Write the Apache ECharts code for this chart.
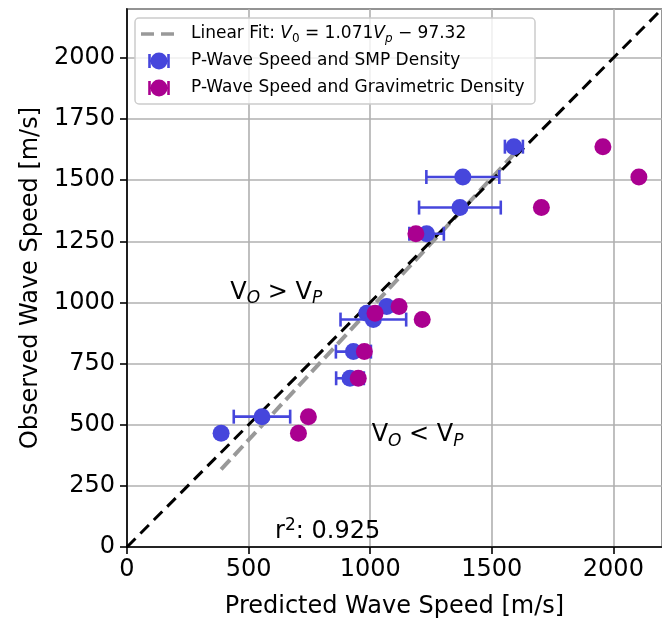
<!DOCTYPE html>
<html>
<head>
<meta charset="utf-8">
<script src="https://cdn.jsdelivr.net/npm/echarts@6/dist/echarts.min.js"></script>
<style>
  html, body { margin: 0; padding: 0; background: #ffffff; }
  #chart { width: 662px; height: 626px; }
</style>
</head>
<body>
<div id="chart"></div>
<script>
// Observed wave speed of each sample [m/s]
const observedSpeed = [1637, 1513, 1388, 1281, 983, 956, 930, 799, 690, 533, 465];
// Predicted P-wave speed from SMP density [m/s]
const smpPredicted = [1591, 1381, 1369, 1232, 1068, 986, 1013, 931, 917, 555, 387];
// Uncertainty of the SMP-based prediction [m/s]
const smpError = [37, 150, 168, 71, 0, 0, 135, 72, 57, 116, 0];
// Predicted P-wave speed from gravimetric density [m/s]
const gravPredicted = [1957, 2105, 1704, 1188, 1119, 1020, 1214, 976, 951, 746, 705];
// Linear fit of observed vs SMP-predicted speed
const fitSlope = 1.071;
const fitIntercept = -97.32;
const rSquared = '0.925';
// Axis extents and tick spacing
const axisMax = 2200;
const xTickStep = 500;
const yTickStep = 250;

const FONT = 'DejaVu Sans';
const BLUE = '#4646DC';
const MAGENTA = '#AA0090';
const GRID_GRAY = '#b0b0b0';
const FIT_GRAY = '#999999';

const chart = echarts.init(document.getElementById('chart'), null, { renderer: 'canvas' });

const smpPoints = smpPredicted.map((x, i) => [x, observedSpeed[i]]);
const gravPoints = gravPredicted.map((x, i) => [x, observedSpeed[i]]);
const errPoints = smpPredicted.map((x, i) => [x, observedSpeed[i], smpError[i]]);

const fitX0 = Math.min(...smpPredicted);
const fitX1 = Math.max(...smpPredicted);
const fitLine = [[fitX0, fitSlope * fitX0 + fitIntercept], [fitX1, fitSlope * fitX1 + fitIntercept]];
const identityLine = [[0, 0], [axisMax, axisMax]];

const axisCommon = {
  type: 'value',
  min: 0,
  max: axisMax,
  axisLine: { show: true, onZero: false, lineStyle: { color: '#000', width: 1.6 } },
  axisTick: { show: true, inside: false, length: 7, lineStyle: { color: '#000', width: 1.6 } },
  splitLine: { show: true, lineStyle: { color: GRID_GRAY, width: 1.6 } },
  nameLocation: 'middle',
  nameTextStyle: { fontFamily: FONT, fontSize: 24, color: '#000' }
};

// Horizontal error bar with end caps
function renderErrorBar(params, api) {
  const x = api.value(0), y = api.value(1), e = api.value(2);
  if (!(e > 0)) return { type: 'group', children: [] };
  const a = api.coord([x - e, y]);
  const b = api.coord([x + e, y]);
  const cap = 7;
  const style = { stroke: BLUE, lineWidth: 2.6 };
  return {
    type: 'group',
    children: [
      { type: 'line', shape: { x1: a[0], y1: a[1], x2: b[0], y2: b[1] }, style },
      { type: 'line', shape: { x1: a[0], y1: a[1] - cap, x2: a[0], y2: a[1] + cap }, style },
      { type: 'line', shape: { x1: b[0], y1: b[1] - cap, x2: b[0], y2: b[1] + cap }, style }
    ]
  };
}

chart.setOption({
  animation: false,
  backgroundColor: '#ffffff',
  grid: {
    left: 127, right: -1, top: 9, bottom: 79,
    show: true, borderColor: '#000', borderWidth: 1.6, backgroundColor: 'transparent'
  },
  xAxis: Object.assign({}, axisCommon, {
    interval: xTickStep,
    name: 'Predicted Wave Speed [m/s]',
    nameGap: 48,
    axisLabel: {
      fontFamily: FONT, fontSize: 24, color: '#000', margin: 11,
      showMaxLabel: false,
      formatter: v => (v % xTickStep === 0 ? String(v) : '')
    }
  }),
  yAxis: Object.assign({}, axisCommon, {
    interval: yTickStep,
    name: 'Observed Wave Speed [m/s]',
    nameGap: 84,
    axisLabel: {
      fontFamily: FONT, fontSize: 24, color: '#000', margin: 12,
      showMaxLabel: false,
      formatter: v => (v % yTickStep === 0 ? String(v) : '')
    }
  }),
  series: [
    {
      type: 'line', name: 'identity', data: identityLine, showSymbol: false, z: 3,
      lineStyle: { color: '#000', width: 3, type: [12, 7] }, silent: true
    },
    {
      type: 'line', name: 'fit', data: fitLine, showSymbol: false, z: 2,
      lineStyle: { color: FIT_GRAY, width: 4, type: [13, 6] }, silent: true
    },
    {
      type: 'custom', name: 'smpErr', data: errPoints, renderItem: renderErrorBar, z: 4,
      encode: { x: 0, y: 1 }
    },
    {
      type: 'scatter', name: 'P-Wave Speed and SMP Density', data: smpPoints, z: 5,
      symbol: 'circle', symbolSize: 17, itemStyle: { color: BLUE, opacity: 1 }
    },
    {
      type: 'scatter', name: 'P-Wave Speed and Gravimetric Density', data: gravPoints, z: 6,
      symbol: 'circle', symbolSize: 17, itemStyle: { color: MAGENTA, opacity: 1 }
    }
  ]
});

// Annotations anchored in data coordinates (left edge, text baseline)
function textAt(dataPt, dx, dy, text, rich) {
  const p = chart.convertToPixel({ gridIndex: 0 }, dataPt);
  return {
    type: 'text', x: p[0] + dx, y: p[1] + dy, z: 20,
    style: { text, rich, fontFamily: FONT, align: 'left', verticalAlign: 'middle' }
  };
}

const annRich = {
  v: { fontFamily: FONT, fontSize: 24, lineHeight: 30, color: '#000' },
  s: { fontFamily: FONT, fontSize: 17, fontStyle: 'italic', lineHeight: 14, verticalAlign: 'bottom', color: '#000' },
  p: { fontFamily: FONT, fontSize: 17, lineHeight: 14, verticalAlign: 'top', color: '#000' }
};

const legRich = {
  t: { fontFamily: FONT, fontSize: 17, lineHeight: 22, color: '#000' },
  i: { fontFamily: FONT, fontSize: 17, fontStyle: 'italic', lineHeight: 22, color: '#000' },
  s: { fontFamily: FONT, fontSize: 12, lineHeight: 11, verticalAlign: 'bottom', color: '#000' },
  si: { fontFamily: FONT, fontSize: 12, fontStyle: 'italic', lineHeight: 11, verticalAlign: 'bottom', color: '#000' }
};

// Legend handle: marker with horizontal error-bar caps
function legendMarker(cx, cy, color) {
  const st = { stroke: color, lineWidth: 2.6 };
  return [
    { type: 'line', shape: { x1: cx - 9.5, y1: cy, x2: cx + 9.5, y2: cy }, style: st },
    { type: 'line', shape: { x1: cx - 9.5, y1: cy - 7, x2: cx - 9.5, y2: cy + 7 }, style: st },
    { type: 'line', shape: { x1: cx + 9.5, y1: cy - 7, x2: cx + 9.5, y2: cy + 7 }, style: st },
    { type: 'circle', shape: { cx, cy, r: 8.5 }, style: { fill: color } }
  ];
}

const legX = 135, legY = 18, legW = 400, legH = 86;
const rowY = [34, 61, 88];
const textX = 191;

chart.setOption({
  graphic: [
    textAt([425, 1008], 0, -8, '{v|V}{s|O}{v| > V}{s|P}', annRich),
    textAt([1006, 427], 0, -8, '{v|V}{s|O}{v| < V}{s|P}', annRich),
    textAt([609, 29], 0, -8, '{v|r}{p|2}{v|: ' + rSquared + '}', annRich),
    {
      type: 'group', z: 30,
      children: [
        {
          type: 'rect', shape: { x: legX, y: legY, width: legW, height: legH, r: 4 },
          style: { fill: 'rgba(255,255,255,0.8)', stroke: '#cccccc', lineWidth: 1.5 }
        },
        {
          type: 'line', shape: { x1: 141, y1: rowY[0], x2: 175, y2: rowY[0] },
          style: { stroke: FIT_GRAY, lineWidth: 3.5, lineDash: [13, 7] }
        },
        {
          type: 'text', x: textX, y: rowY[0],
          style: {
            text: '{t|Linear Fit: }{i|V}{s|0}{t| = 1.071}{i|V}{si|p}{t| \u2212 97.32}',
            rich: legRich, verticalAlign: 'middle', align: 'left'
          }
        },
        ...legendMarker(159, rowY[1], BLUE),
        {
          type: 'text', x: textX, y: rowY[1],
          style: { text: 'P-Wave Speed and SMP Density', fontFamily: FONT, fontSize: 17, fill: '#000', verticalAlign: 'middle', align: 'left' }
        },
        ...legendMarker(159, rowY[2], MAGENTA),
        {
          type: 'text', x: textX, y: rowY[2],
          style: { text: 'P-Wave Speed and Gravimetric Density', fontFamily: FONT, fontSize: 17, fill: '#000', verticalAlign: 'middle', align: 'left' }
        }
      ]
    }
  ]
});
</script>
</body>
</html>
